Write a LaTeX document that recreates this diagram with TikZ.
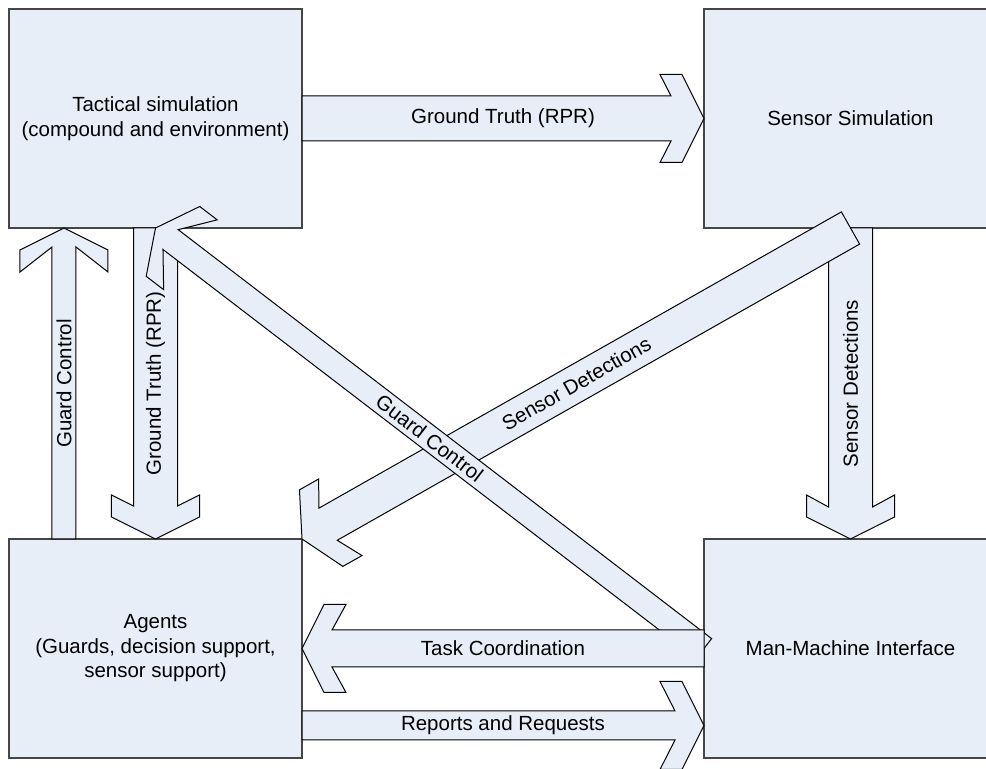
\documentclass[tikz,border=0pt]{standalone}
\usepackage{fontspec}
\setmainfont{Liberation Sans}
\usetikzlibrary{positioning,calc}

\definecolor{boxfill}{RGB}{232,238,247}
\definecolor{boxline}{RGB}{70,70,70}

% block arrow: tail, tip, shaft half width, notch depth, label, label angle
\newcommand{\flowarrow}[6]{%
  \path let \p1=($(#2)-(#1)$) in \pgfextra{%
    \pgfmathsetmacro{\flowang}{atan2(\y1,\x1)}\global\let\flowang\flowang
    \pgfmathsetmacro{\flowlen}{2*veclen(\x1,\y1)}\global\let\flowlen\flowlen};
  \draw[flow, shift={(#1)}, rotate=\flowang]
    (0,-#3) -- ({\flowlen-#4},-#3) -- ({\flowlen-44},-44) -- ({\flowlen-22},-44)
    -- (\flowlen,0) -- ({\flowlen-22},44) -- ({\flowlen-44},44) -- ({\flowlen-#4},#3)
    -- (0,#3) -- cycle;
  \path (#1) -- (#2) node[midway, flowlabel, rotate=#6] {#5};
}

\begin{document}
\begin{tikzpicture}[x=0.5pt, y=0.5pt,
box/.style={rectangle, draw=boxline, line width=0.75pt, fill=boxfill, minimum width=146.5pt, minimum height=109.5pt, inner sep=0pt, outer sep=0pt, align=center, font=\fontsize{10.25pt}{12.25pt}\selectfont},
flow/.style={draw=black, line width=0.5pt, fill=boxfill, line join=miter},
flowlabel/.style={inner sep=0pt, font=\fontsize{10.25pt}{12.25pt}\selectfont},
]
\useasboundingbox (-155.5,118.5) rectangle (830.5,-650.5);

\node[box] (tac) at (0,0) {Tactical simulation\\(compound and environment)};
\node[box, right=201pt of tac] (sen) {Sensor Simulation};
\node[box, below=155.5pt of tac] (agt) {Agents\\(Guards, decision support,\\sensor support)};
\node[box, below=155.5pt of sen] (mmi) {Man-Machine Interface};

\coordinate (gcTail) at ([xshift=27.5pt]agt.north west);
\coordinate (gcTip) at ([xshift=27.5pt]tac.south west);
\coordinate (rrTail) at ([yshift=-38.5pt]agt.east);
\coordinate (rrTip) at ([yshift=-38.5pt]mmi.west);

\flowarrow{tac.east}{sen.west}{22.5}{33}{Ground Truth (RPR)}{0}
\flowarrow{tac.south}{agt.north}{22}{33}{Ground Truth (RPR)}{\flowang+180}
\flowarrow{gcTail}{gcTip}{12}{19}{Guard Control}{\flowang}
\flowarrow{sen.south}{mmi.north}{22}{32}{Sensor Detections}{\flowang+180}
\flowarrow{sen.south}{agt.north east}{18.5}{30}{Sensor Detections}{\flowang+180}
% guard control crosses over the detections
\flowarrow{mmi.west}{tac.south}{12.5}{19}{Guard Control}{\flowang+180}
\flowarrow{mmi.west}{agt.east}{18.5}{30}{Task Coordination}{\flowang+180}
\flowarrow{rrTail}{rrTip}{14.5}{29}{Reports and Requests}{\flowang}

\end{tikzpicture}
\end{document}
